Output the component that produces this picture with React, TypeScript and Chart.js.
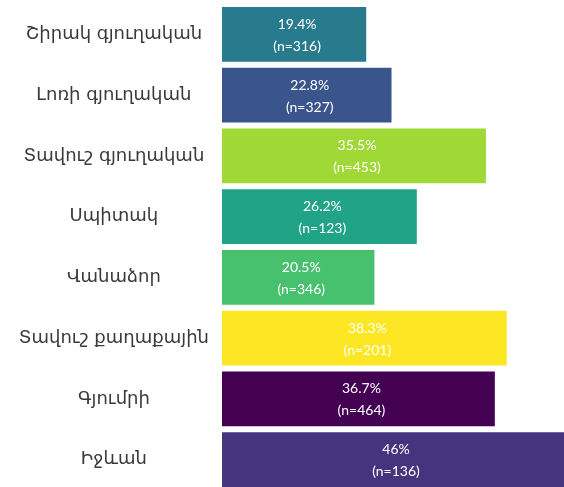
import { useEffect, useRef } from "react";
import { Chart, registerables } from "chart.js";

Chart.register(...registerables);

const categories = [
  "Շիրակ գյուղական",
  "Լոռի գյուղական",
  "Տավուշ գյուղական",
  "Սպիտակ",
  "Վանաձոր",
  "Տավուշ քաղաքային",
  "Գյումրի",
  "Իջևան",
];
const percents = [19.4, 22.8, 35.5, 26.2, 20.5, 38.3, 36.7, 46];
const counts = [316, 327, 453, 123, 346, 201, 464, 136];
const barColors = [
  "#277b8c",
  "#3a548c",
  "#a0d936",
  "#20a386",
  "#48c16e",
  "#fde725",
  "#440154",
  "#47337e",
];

const barLabelPlugin = {
  id: "barLabels",
  afterDatasetsDraw(chart: any) {
    const ctx = chart.ctx;
    const meta = chart.getDatasetMeta(0);
    ctx.save();
    ctx.fillStyle = "#ffffff";
    ctx.textAlign = "center";
    ctx.textBaseline = "middle";
    ctx.font = "14px Lato, 'DejaVu Sans', sans-serif";
    meta.data.forEach((bar: any, i: number) => {
      const cx = (bar.x + bar.base) / 2 + 3;
      ctx.fillText(`${percents[i]}%`, cx, bar.y - 10);
      ctx.fillText(`(n=${counts[i]})`, cx, bar.y + 12);
    });
    ctx.restore();
  },
};

export default function App() {
  const ref = useRef<HTMLCanvasElement>(null);
  useEffect(() => {
    if (!ref.current) return;
    const chart = new Chart(ref.current, {
      type: "bar",
      data: {
        labels: categories,
        datasets: [
          {
            data: percents,
            backgroundColor: barColors,
            barPercentage: 0.9,
            categoryPercentage: 1,
          },
        ],
      },
      options: {
        indexAxis: "y",
        animation: false,
        responsive: false,
        layout: { padding: { top: 4, left: 0, right: 0, bottom: 0 } },
        plugins: { legend: { display: false }, tooltip: { enabled: false } },
        scales: {
          x: { display: false, min: 0, max: 46 },
          y: {
            grid: { display: false },
            border: { display: false },
            afterFit: (scale: any) => {
              scale.width = 222;
              scale.paddingTop = 0;
              scale.paddingBottom = 0;
            },
            ticks: {
              crossAlign: "center",
              color: "#3a3a3a",
              padding: 5,
              font: { family: "'DejaVu Sans', sans-serif", size: 18 },
            },
          },
        },
      },
      plugins: [barLabelPlugin],
    });
    return () => chart.destroy();
  }, []);
  return (
    <div
      style={{
        position: "fixed",
        left: 0,
        top: 0,
        width: 564,
        height: 487,
        overflow: "hidden",
        background: "#fff",
      }}
    >
      <canvas ref={ref} width={564} height={490} />
    </div>
  );
}
